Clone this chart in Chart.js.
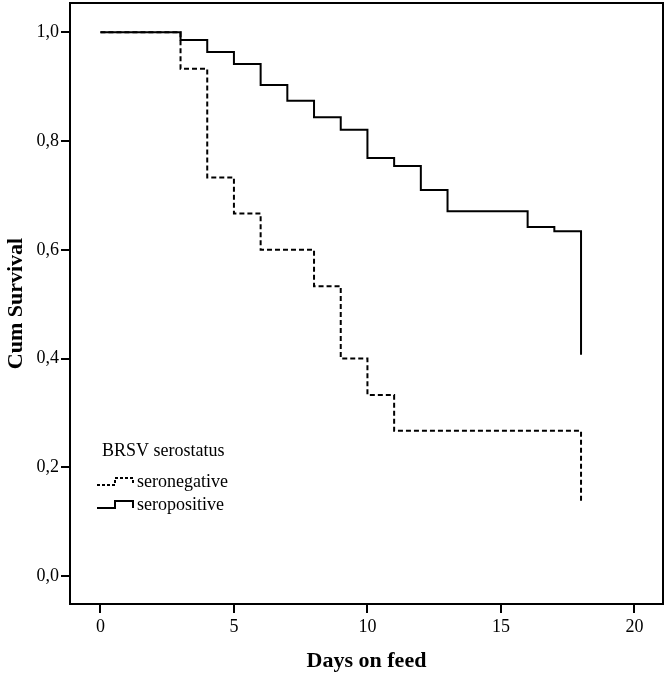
<!DOCTYPE html>
<html>
<head>
<meta charset="utf-8">
<script src="https://cdn.jsdelivr.net/npm/chart.js@4"></script>
<style>
  body { margin: 0; background: #fff; }
  #wrap { width: 666px; height: 677px; }
</style>
</head>
<body>
<div id="wrap"><canvas id="chart" width="666" height="677"></canvas></div>
<script>
// Kaplan-Meier steps
const posDays = [0, 3, 4, 5, 6, 7, 8, 9, 10, 11, 12, 13, 16, 17, 18];
const posSurv = [1, 0.986, 0.964, 0.942, 0.903, 0.874, 0.844, 0.821, 0.769, 0.754, 0.710, 0.671, 0.642, 0.634, 0.407];
const negDays = [0, 3, 4, 5, 6, 8, 9, 10, 11, 18];
const negSurv = [1, 0.933, 0.733, 0.667, 0.600, 0.533, 0.400, 0.333, 0.267, 0.133];
const seriesNames = ['seronegative', 'seropositive'];
const xTicks = [0, 5, 10, 15, 20];
const yTicks = [0, 0.2, 0.4, 0.6, 0.8, 1.0];

const serif = "'Liberation Serif', 'DejaVu Serif', serif";

// frame around the plot area
const frame = {
  id: 'frame',
  afterDraw(chart) {
    const a = chart.chartArea, ctx = chart.ctx;
    ctx.save();
    ctx.strokeStyle = '#000';
    ctx.lineWidth = 2;
    ctx.strokeRect(a.left, a.top, a.right - a.left, a.bottom - a.top);
    ctx.restore();
  }
};

// SPSS style legend with little step icons
const stepLegend = {
  id: 'stepLegend',
  afterDraw(chart) {
    const ctx = chart.ctx;
    ctx.save();
    ctx.fillStyle = '#000';
    ctx.font = '18px ' + serif;
    ctx.textBaseline = 'middle';
    ctx.fillText('BRSV serostatus', 102, 451);
    chart.data.datasets.forEach((ds, i) => {
      const y = 485 + i * 23;
      ctx.beginPath();
      ctx.strokeStyle = '#000';
      ctx.lineWidth = ds.borderWidth;
      ctx.setLineDash(ds.borderDash.length ? [3, 2] : []);
      ctx.moveTo(97, y);
      ctx.lineTo(115, y);
      ctx.lineTo(115, y - 7);
      ctx.lineTo(133, y - 7);
      ctx.lineTo(133, y);
      ctx.stroke();
      ctx.setLineDash([]);
      ctx.fillText(ds.label, 137, y - 3);
    });
    ctx.restore();
  }
};

const fmt = (v) => v.toFixed(1).replace('.', ',');

// fixed axis sizes, no extra label padding
const fixX = (s) => { s.height = 73; s.paddingLeft = 0; s.paddingRight = 0; };
const fixY = (s) => { s.width = 70; s.paddingTop = 0; s.paddingBottom = 0; };

new Chart(document.getElementById('chart').getContext('2d'), {
  type: 'line',
  data: {
    datasets: [
      {
        label: seriesNames[0],
        data: negDays.map((d, i) => ({ x: d, y: negSurv[i] })),
        borderColor: '#000',
        borderWidth: 2,
        borderDash: [5, 3],
        stepped: 'before',
        pointRadius: 0,
        fill: false
      },
      {
        label: seriesNames[1],
        data: posDays.map((d, i) => ({ x: d, y: posSurv[i] })),
        borderColor: '#000',
        borderWidth: 2,
        borderDash: [],
        stepped: 'before',
        pointRadius: 0,
        fill: false
      }
    ]
  },
  options: {
    responsive: false,
    animation: false,
    layout: { padding: { left: 0, right: 3, top: 3, bottom: 0 } },
    plugins: {
      legend: { display: false },
      tooltip: { enabled: false }
    },
    scales: {
      x: {
        type: 'linear',
        min: -1.14,
        max: 21.07,
        afterBuildTicks: (s) => { s.ticks = xTicks.map((v) => ({ value: v })); },
        afterFit: fixX,
        ticks: { color: '#000', font: { family: serif, size: 18 }, padding: 3, maxRotation: 0 },
        grid: { drawOnChartArea: false, tickLength: 9, color: '#000', lineWidth: 2 },
        border: { color: '#000', width: 2 },
        title: {
          display: true,
          text: 'Days on feed',
          color: '#000',
          font: { family: serif, size: 22, weight: 'bold' },
          padding: { top: 0, bottom: 2 }
        }
      },
      y: {
        min: -0.0515,
        max: 1.054,
        afterBuildTicks: (s) => { s.ticks = yTicks.map((v) => ({ value: v })); },
        afterFit: fixY,
        ticks: { color: '#000', font: { family: serif, size: 18 }, padding: 2, callback: (v) => fmt(v) },
        grid: { drawOnChartArea: false, tickLength: 9, color: '#000', lineWidth: 2 },
        border: { color: '#000', width: 2 },
        title: {
          display: true,
          text: 'Cum Survival',
          color: '#000',
          font: { family: serif, size: 22, weight: 'bold' },
          padding: { top: 3, bottom: 0 }
        }
      }
    }
  },
  plugins: [frame, stepLegend]
});
</script>
</body>
</html>
